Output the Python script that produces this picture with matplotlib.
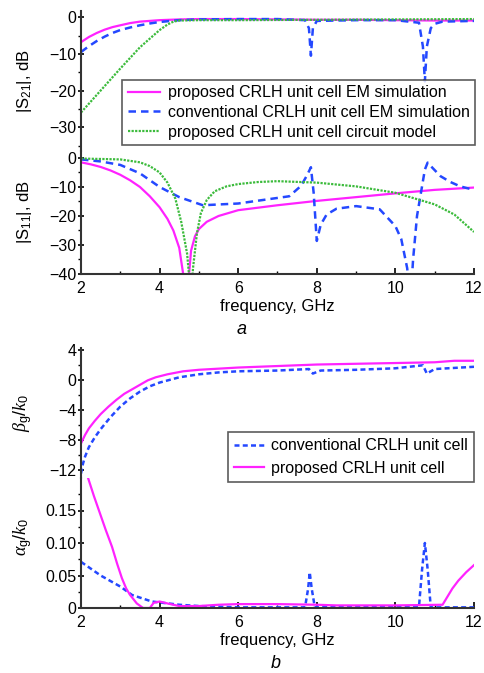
import numpy as np
import matplotlib
matplotlib.use("Agg")
import matplotlib.pyplot as plt
from matplotlib.ticker import MultipleLocator, FixedLocator

plt.rcParams['font.family'] = ['Liberation Sans', 'DejaVu Sans']
plt.rcParams['mathtext.fontset'] = 'custom'
plt.rcParams['mathtext.rm'] = 'Liberation Sans'
plt.rcParams['mathtext.it'] = 'Liberation Serif:italic'

MAG = '#ff22ff'
BLUE = '#2448ff'
GREEN = '#3cbb3c'

# |S21| data
f21_prop = [2, 2.2, 2.4, 2.6, 2.8, 3, 3.25, 3.5, 3.75, 4, 4.5, 5, 6, 7, 8, 9, 10, 11, 12]
s21_prop = [-6.8, -5.4, -4.3, -3.4, -2.7, -2.2, -1.6, -1.2, -1.0, -0.8, -0.6, -0.5, -0.5, -0.6, -0.7,
            -0.7, -0.8, -0.9, -0.9]
f21_conv = [2, 2.2, 2.4, 2.6, 2.8, 3, 3.25, 3.5, 3.75, 4, 4.5, 5, 6, 7, 7.7, 7.8, 7.85, 7.9, 8.0, 9, 10,
            10.6, 10.7, 10.75, 10.8, 10.9, 11.0, 11.2, 12]
s21_conv = [-9.5, -7.9, -6.5, -5.3, -4.3, -3.5, -2.8, -2.2, -1.7, -1.3, -0.8, -0.6, -0.5, -0.5, -0.8, -3,
            -10.5, -3, -1.0, -0.8, -0.8, -1.5, -8, -17.5, -8, -3, -1.8, -1.2, -1.0]
f21_circ = [2, 2.5, 3, 3.5, 4, 4.2, 4.35, 4.5, 5, 6, 8, 10, 12]
s21_circ = [-26, -20, -14, -8.2, -3.5, -2.0, -1.2, -0.9, -0.8, -0.8, -0.7, -0.6, -0.5]

# |S11| data
f11_prop = [2, 2.25, 2.5, 2.75, 3, 3.25, 3.5, 3.75, 4, 4.2, 4.35, 4.5, 4.6, 4.67, 4.75, 4.8, 4.9, 5.0,
            5.2, 5.5, 6, 7, 8, 9, 10, 11, 12]
s11_prop = [-1.5, -2.2, -3.1, -4.3, -5.8, -7.7, -10, -13.2, -17, -21, -25, -31, -40, -60, -40, -32, -27,
            -24.5, -22, -20, -18, -16.3, -14.8, -13.5, -12.2, -11, -10.2]
f11_conv = [2, 2.5, 3, 3.5, 4, 4.5, 5.1, 6, 7.3, 7.6, 7.75, 7.85, 7.92, 8.0, 8.1, 8.25, 8.5, 9.0, 9.6,
            10.0, 10.15, 10.3, 10.38, 10.45, 10.55, 10.65, 10.75, 10.82, 10.95, 11.15, 11.4, 11.65, 12]
s11_conv = [-0.5, -1.2, -2.4, -5.3, -10, -13.5, -16.3, -15.7, -13.2, -9.6, -6, -3.2, -12, -28.6, -23,
            -19.5, -17.5, -16.6, -17.7, -23.5, -28, -38, -50, -35, -20, -12, -4, -1.6, -3.5, -6.3, -8.3,
            -9.8, -11]
f11_circ = [2, 3, 3.5, 3.75, 4, 4.2, 4.4, 4.55, 4.7, 4.8, 4.85, 4.95, 5.05, 5.2, 5.4, 5.7, 6, 6.5, 7, 8,
            9, 10, 11, 11.5, 12]
s11_circ = [-0.2, -0.5, -1.5, -2.8, -5, -8.5, -14, -22, -33, -48, -38, -26, -19, -14.5, -11.5, -9.8, -9,
            -8.3, -8, -8.5, -9.8, -12, -16, -19.5, -25.5]

# beta_g/k0 data
fb_conv = [2, 2.05, 2.1, 2.2, 2.35, 2.5, 2.75, 3, 3.25, 3.5, 3.75, 4, 4.5, 5, 5.5, 6, 7, 7.8, 7.9, 8.1,
           9, 10, 10.7, 10.8, 11, 12]
beta_conv = [-12.5, -11.2, -10.3, -9.0, -7.7, -6.6, -5.0, -3.6, -2.5, -1.6, -0.9, -0.4, 0.3, 0.7, 0.95,
             1.1, 1.2, 1.4, 0.8, 1.2, 1.3, 1.5, 1.9, 0.8, 1.4, 1.7]
fb_prop = [2, 2.1, 2.2, 2.35, 2.5, 2.7, 2.9, 3.1, 3.3, 3.5, 3.7, 3.9, 4.2, 4.6, 5, 6, 7, 8, 9, 10, 11,
           11.5, 12]
beta_prop = [-8.5, -7.4, -6.5, -5.5, -4.6, -3.6, -2.7, -1.9, -1.3, -0.7, -0.1, 0.3, 0.7, 1.1, 1.3, 1.6,
             1.8, 2.0, 2.1, 2.2, 2.3, 2.5, 2.5]

# alpha_g/k0 data
fa_conv = [2, 2.5, 3, 3.3, 3.8, 4.5, 5, 6, 7.7, 7.78, 7.82, 7.87, 7.95, 9, 10.6, 10.68, 10.75, 10.82,
           10.9, 12]
alpha_conv = [0.071, 0.05, 0.033, 0.02, 0.01, 0.005, 0.003, 0.001, 0.001, 0.03, 0.055, 0.03, 0.001,
              0.002, 0.002, 0.06, 0.1, 0.06, 0.001, 0.001]
fa_prop = [2.18, 2.33, 2.48, 2.63, 2.79, 2.92, 3.04, 3.15, 3.25, 3.42, 3.58, 3.75, 3.85, 4.0, 4.2, 4.5,
           5, 5.5, 6, 7, 8, 8.5, 10, 11.2, 11.3, 11.45, 11.6, 11.8, 12]
alpha_prop = [0.2, 0.172, 0.146, 0.12, 0.094, 0.068, 0.046, 0.03, 0.02, 0.007, 0.0, 0.0, 0.008, 0.01,
              0.007, 0.003, 0.003, 0.005, 0.006, 0.006, 0.005, 0.004, 0.004, 0.005, 0.015, 0.03, 0.042,
              0.055, 0.066]

W, H = 485, 673
fig = plt.figure(figsize=(W / 100, H / 100), dpi=100)
TS = 11.5


def box(x0, y0, x1, y1):
    return [x0 / W, 1 - y1 / H, (x1 - x0) / W, (y1 - y0) / H]


def style(ax, bottom=False):
    for s in ['top', 'right']:
        ax.spines[s].set_visible(False)
    for s in ['left', 'bottom']:
        ax.spines[s].set_linewidth(1.5)
        ax.spines[s].set_color('#333333')
    ax.spines['bottom'].set_visible(bottom)
    ax.patch.set_alpha(0)
    ax.tick_params(axis='y', which='major', direction='inout', length=5, width=1.2, labelsize=TS, pad=1)
    ax.tick_params(axis='y', which='minor', direction='out', length=2.5, width=1.0)
    ax.tick_params(axis='x', which='major', direction='in', length=4, width=1.2, labelsize=TS,
                   bottom=bottom, labelbottom=bottom, pad=5)
    ax.tick_params(axis='x', which='minor', direction='in', length=2.5, width=1.0, bottom=bottom)
    ax.set_xlim(2, 12)
    ax.xaxis.set_major_locator(MultipleLocator(2))
    ax.xaxis.set_minor_locator(MultipleLocator(1))


def frame(leg):
    leg.get_frame().set_edgecolor('#333333')
    leg.get_frame().set_linewidth(1.2)


# panel a
ax1 = fig.add_axes(box(81, 11, 474, 151))
style(ax1)
ax1.plot(f21_prop, s21_prop, color=MAG, lw=1.6, label='proposed CRLH unit cell EM simulation')
ax1.plot(f21_conv, s21_conv, color=BLUE, lw=1.8, dashes=(3, 2), label='conventional CRLH unit cell EM simulation')
ax1.plot(f21_circ, s21_circ, color=GREEN, lw=1.6, dashes=(1, 0.6), label='proposed CRLH unit cell circuit model')
ax1.set_ylim(-36.5, 1.7)
ax1.set_yticks([0, -10, -20, -30])
ax1.set_yticklabels(['0', '\u221210', '\u221220', '\u221230'])
ax1.yaxis.set_minor_locator(MultipleLocator(5))
ax1.set_ylabel('|S$_{21}$|, dB', fontsize=12)
ax1.yaxis.set_label_coords(-0.12, 0.5)
leg = ax1.legend(loc='upper right', bbox_to_anchor=(1.003, 0.51), fontsize=11.5, frameon=True,
                 fancybox=False, handlelength=2.0, borderpad=0.35, labelspacing=0.3, handletextpad=0.5,
                 borderaxespad=0)
frame(leg)

ax2 = fig.add_axes(box(81, 151, 474, 274))
style(ax2, bottom=True)
ax2.plot(f11_prop, s11_prop, color=MAG, lw=1.6)
ax2.plot(f11_conv, s11_conv, color=BLUE, lw=1.8, dashes=(3, 2))
ax2.plot(f11_circ, s11_circ, color=GREEN, lw=1.6, dashes=(1, 0.6))
ax2.set_ylim(-40, 2.4)
ax2.set_yticks([0, -10, -20, -30, -40])
ax2.set_yticklabels(['0', '\u221210', '\u221220', '\u221230', '\u221240'])
ax2.yaxis.set_minor_locator(MultipleLocator(5))
ax2.set_ylabel('|S$_{11}$|, dB', fontsize=12)
ax2.yaxis.set_label_coords(-0.12, 0.5)
ax2.set_xlabel('frequency, GHz', fontsize=12, labelpad=2)
fig.text(242 / W, 1 - 330 / H, 'a', fontsize=13, style='italic', ha='center', va='center')

# panel b
ax3 = fig.add_axes(box(81, 348, 474, 478))
style(ax3)
ax3.plot(fb_conv, beta_conv, color=BLUE, lw=1.8, dashes=(2, 1.3), label='conventional CRLH unit cell')
ax3.plot(fb_prop, beta_prop, color=MAG, lw=1.6, label='proposed CRLH unit cell')
ax3.set_ylim(-13.1, 4.2)
ax3.set_yticks([4, 0, -4, -8, -12])
ax3.set_yticklabels(['4', '0', '\u22124', '\u22128', '\u221212'])
ax3.yaxis.set_minor_locator(FixedLocator([2, -2, -6, -10]))
ax3.set_ylabel(r'$\beta_{\rm g}/k_0$', fontsize=13)
ax3.yaxis.set_label_coords(-0.12, 0.5)
leg2 = ax3.legend(loc='upper right', bbox_to_anchor=(1.0, 0.354), fontsize=11.5, frameon=True,
                  fancybox=False, handlelength=1.9, borderpad=0.4, labelspacing=0.45, handletextpad=0.4,
                  borderaxespad=0)
frame(leg2)

ax4 = fig.add_axes(box(81, 478, 474, 608))
style(ax4, bottom=True)
ax4.plot(fa_conv, alpha_conv, color=BLUE, lw=1.8, dashes=(2, 1.3))
ax4.plot(fa_prop, alpha_prop, color=MAG, lw=1.6)
ax4.set_ylim(0, 0.2)
ax4.set_yticks([0, 0.05, 0.10, 0.15])
ax4.set_yticklabels(['0', '0.05', '0.10', '0.15'])
ax4.yaxis.set_minor_locator(FixedLocator([0.025, 0.075, 0.125, 0.175]))
ax4.set_ylabel(r'$\alpha_{\rm g}/k_0$', fontsize=13)
ax4.yaxis.set_label_coords(-0.12, 0.55)
ax4.set_xlabel('frequency, GHz', fontsize=12, labelpad=2)
fig.text(276 / W, 1 - 664 / H, 'b', fontsize=13, style='italic', ha='center', va='center')

fig.savefig('out.png', dpi=100)
